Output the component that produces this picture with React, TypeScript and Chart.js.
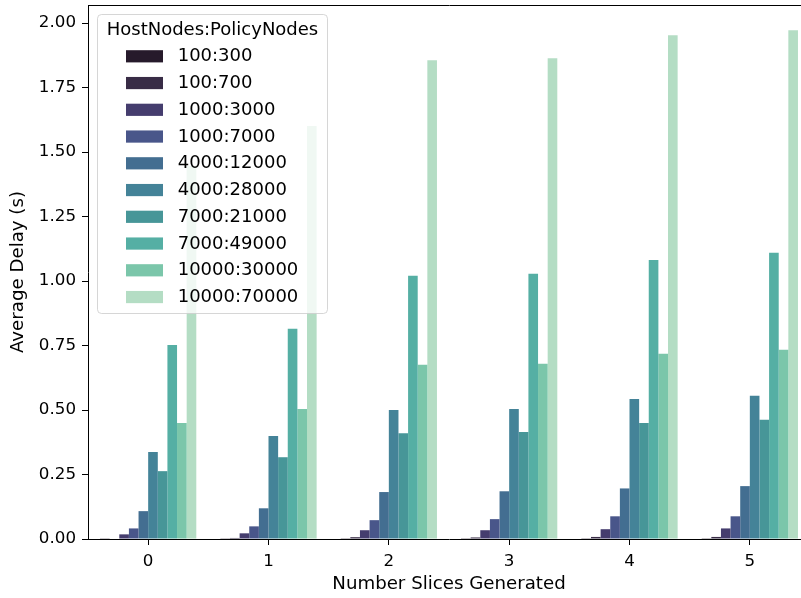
import React, { useEffect, useRef } from 'react';
import { Chart, registerables } from 'chart.js';

Chart.register(...registerables);

// ---- data ----
const CATEGORIES = ['0', '1', '2', '3', '4', '5'];
const LEGEND_TITLE = 'HostNodes:PolicyNodes';
const SERIES_LABELS = [
  '100:300', '100:700', '1000:3000', '1000:7000', '4000:12000',
  '4000:28000', '7000:21000', '7000:49000', '10000:30000', '10000:70000',
];
const S_100_300 = [0.001, 0.001, 0.003, 0.003, 0.003, 0.003];
const S_100_700 = [0.002, 0.004, 0.007, 0.006, 0.008, 0.008];
const S_1000_3000 = [0.018, 0.022, 0.034, 0.034, 0.038, 0.041];
const S_1000_7000 = [0.041, 0.049, 0.073, 0.077, 0.088, 0.088];
const S_4000_12000 = [0.108, 0.119, 0.182, 0.185, 0.196, 0.205];
const S_4000_28000 = [0.337, 0.399, 0.5, 0.504, 0.543, 0.555];
const S_7000_21000 = [0.263, 0.317, 0.41, 0.415, 0.45, 0.462];
const S_7000_49000 = [0.752, 0.815, 1.02, 1.028, 1.082, 1.11];
const S_10000_30000 = [0.45, 0.504, 0.675, 0.679, 0.718, 0.734];
const S_10000_70000 = [1.446, 1.601, 1.856, 1.864, 1.953, 1.972];
const SERIES_VALUES = [
  S_100_300, S_100_700, S_1000_3000, S_1000_7000, S_4000_12000,
  S_4000_28000, S_7000_21000, S_7000_49000, S_10000_30000, S_10000_70000,
];
const COLORS = [
  '#261a2b', '#382c46', '#453d6e', '#49568a', '#436e91',
  '#448398', '#479698', '#55afa4', '#7bc6aa', '#b4ddc4',
];
const Y_TICKS = [0, 0.25, 0.5, 0.75, 1.0, 1.25, 1.5, 1.75, 2.0];
const Y_MAX = 2.07;
const X_TITLE = 'Number Slices Generated';
const Y_TITLE = 'Average Delay (s)';

const FONT = 'DejaVu Sans';
const FS_TICK = 16.7;
const FS_LABEL = 18.2;
const FS_LEGEND = 18;

const framePlugin = {
  id: 'mplFrameLegend',
  afterDraw(chart: any) {
    const ctx = chart.ctx as CanvasRenderingContext2D;
    const ca = chart.chartArea;
    ctx.save();
    // top and right spines
    ctx.strokeStyle = '#000';
    ctx.lineWidth = 1;
    ctx.beginPath();
    ctx.moveTo(Math.round(ca.left) + 0.5, Math.round(ca.top) + 0.5);
    ctx.lineTo(Math.round(ca.right) + 0.5, Math.round(ca.top) + 0.5);
    ctx.lineTo(Math.round(ca.right) + 0.5, Math.round(ca.bottom) + 0.5);
    ctx.stroke();

    // legend
    const x0 = ca.left + 9;
    const y0 = ca.top + 9;
    const w = 230;
    const h = 299;
    ctx.beginPath();
    (ctx as any).roundRect(Math.round(x0) + 0.5, Math.round(y0) + 0.5, w, h, 4);
    ctx.fillStyle = 'rgba(255,255,255,0.8)';
    ctx.fill();
    ctx.strokeStyle = 'rgba(204,204,204,0.8)';
    ctx.lineWidth = 1;
    ctx.stroke();

    ctx.font = `${FS_LEGEND}px "${FONT}"`;
    ctx.textBaseline = 'middle';
    ctx.textAlign = 'left';
    ctx.fillStyle = '#000';
    ctx.fillText(LEGEND_TITLE, x0 + 9.7, y0 + 16.5);
    chart.data.datasets.forEach((ds: any, i: number) => {
      const cy = y0 + 42.3 + i * 26.75;
      ctx.fillStyle = ds.backgroundColor;
      ctx.fillRect(x0 + 29, cy - 6.1, 37, 12.2);
      ctx.fillStyle = '#000';
      ctx.fillText(ds.label, x0 + 80.7, cy + 0.5);
    });
    ctx.restore();
  },
};

export default function App() {
  const ref = useRef<HTMLCanvasElement>(null);

  useEffect(() => {
    const canvas = ref.current!;
    const chart = new Chart(canvas, {
      type: 'bar',
      data: {
        labels: CATEGORIES,
        datasets: SERIES_LABELS.map((label, i) => ({
          label,
          data: SERIES_VALUES[i],
          backgroundColor: COLORS[i],
          borderWidth: 0,
          categoryPercentage: 0.8,
          barPercentage: 1.0,
        })),
      },
      options: {
        responsive: false,
        animation: false,
        devicePixelRatio: 1,
        layout: { padding: { top: 5, right: 20, left: 0, bottom: 0 } },
        plugins: {
          legend: { display: false },
          tooltip: { enabled: false },
          title: { display: false },
        },
        scales: {
          x: {
            type: 'category',
            offset: true,
            grid: {
              display: true,
              drawOnChartArea: false,
              drawTicks: true,
              tickLength: 6,
              offset: false,
              color: '#000',
              tickColor: '#000',
              lineWidth: 1,
            },
            border: { display: true, color: '#000', width: 1 },
            ticks: {
              color: '#000',
              font: { family: FONT, size: FS_TICK },
              padding: 7,
              maxRotation: 0,
              autoSkip: false,
            },
            title: {
              display: true,
              text: X_TITLE,
              color: '#000',
              font: { family: FONT, size: FS_LABEL },
              padding: { top: 0, bottom: 3 },
            },
            afterFit: (scale: any) => {
              scale.height = 59;
              scale.paddingLeft = 0;
              scale.paddingRight = 0;
            },
          },
          y: {
            type: 'linear',
            min: 0,
            max: Y_MAX,
            grid: {
              display: true,
              drawOnChartArea: false,
              drawTicks: true,
              tickLength: 6,
              color: '#000',
              tickColor: '#000',
              lineWidth: 1,
            },
            border: { display: true, color: '#000', width: 1 },
            ticks: {
              color: '#000',
              font: { family: FONT, size: FS_TICK },
              padding: 6,
              callback: (v: any) => Number(v).toFixed(2),
            },
            afterBuildTicks: (scale: any) => {
              scale.ticks = Y_TICKS.map((v) => ({ value: v }));
            },
            title: {
              display: true,
              text: Y_TITLE,
              color: '#000',
              font: { family: FONT, size: FS_LABEL },
              padding: { top: 7.5, bottom: 0 },
            },
            afterFit: (scale: any) => {
              scale.width = 88;
              scale.paddingTop = 0;
              scale.paddingBottom = 0;
            },
          },
        },
      },
      plugins: [framePlugin],
    });
    return () => chart.destroy();
  }, []);

  return (
    <div
      style={{
        position: 'fixed',
        left: 0,
        top: 0,
        width: 801,
        height: 598,
        overflow: 'hidden',
        background: '#fff',
      }}
    >
      <canvas
        ref={ref}
        width={830}
        height={598}
        style={{ display: 'block', width: 830, height: 598 }}
      />
    </div>
  );
}
